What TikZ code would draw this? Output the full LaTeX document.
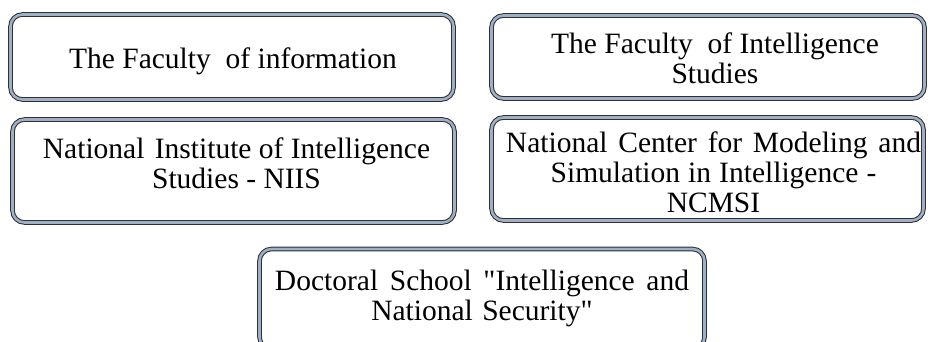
\documentclass[tikz,border=0pt]{standalone}
\usepackage{fontspec}
\setmainfont{Liberation Serif}[Ligatures=TeXOff]
\definecolor{edgedark}{HTML}{2E2E33}
\definecolor{edgemid}{HTML}{9DB0C6}
\newcommand\wsp[1]{\hspace{#1pt}}
\begin{document}
\begin{tikzpicture}[x=1pt,y=1pt,
  orgbox/.style={draw=edgedark, double=edgemid, line width=1pt, double distance=2.6pt,
    rounded corners=12pt, fill=white, inner sep=0pt},
  lbl/.style={align=center, inner sep=0pt, font=\fontsize{29.5}{30}\selectfont}]
\useasboundingbox (0,0) rectangle (928,-342);
\clip (0,0) rectangle (928,-342);
\node[orgbox, minimum width=443, minimum height=85] (fac) at (232,-57) {};
\node[orgbox, minimum width=433, minimum height=83] (fis) at (708,-57) {};
\node[orgbox, minimum width=442, minimum height=103] (niis) at (233.5,-171) {};
\node[orgbox, minimum width=432, minimum height=103] (ncmsi) at (707.5,-169) {};
\node[orgbox, minimum width=445, minimum height=100] (ds) at (482,-299) {};
\node[lbl, yshift=-4, xshift=1] (facT) at (fac.center) {The Faculty \ of information};
\node[lbl, yshift=-1, xshift=7] (fisT) at (fis.center) {The Faculty \ of Intelligence\\Studies};
\node[lbl, yshift=8, xshift=3] (niisT) at (niis.center) {National\wsp{3} Institute of Intelligence\\Studies - NIIS};
\node[lbl, yshift=-3, xshift=6] (ncmsiT) at (ncmsi.center) {National\wsp{3.4} Center\wsp{3.4} for\wsp{3.4} Modeling\wsp{3.4} and\\Simulation\wsp{0.7} in\wsp{0.7} Intelligence\wsp{0.7} -\\NCMSI};
\node[lbl, yshift=1] (dsT) at (ds.center) {Doctoral\wsp{4.3} School\wsp{4.3} "Intelligence\wsp{4.3} and\\National\wsp{2} Security"};
\end{tikzpicture}
\end{document}
